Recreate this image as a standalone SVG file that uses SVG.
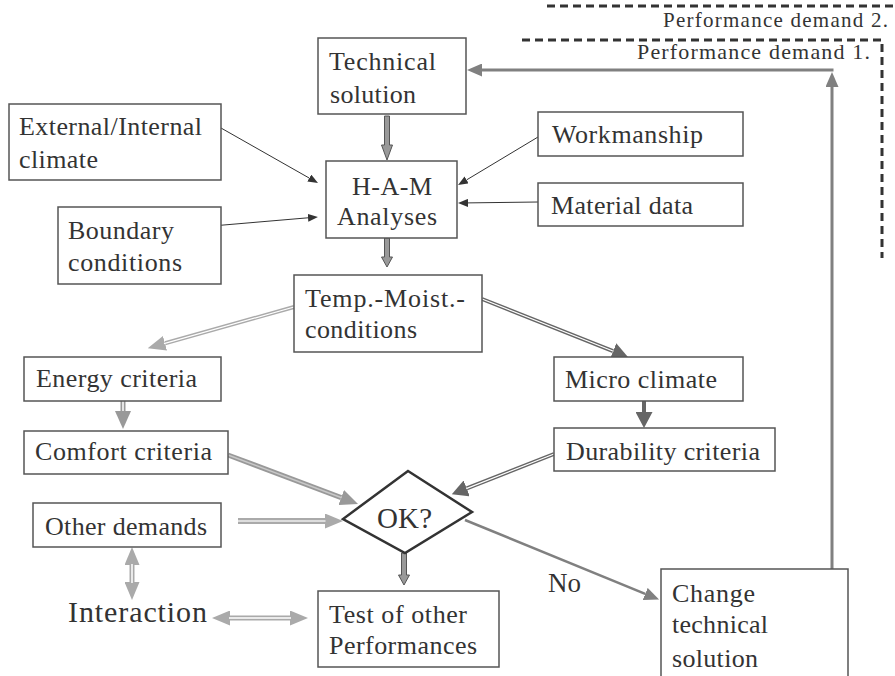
<svg xmlns="http://www.w3.org/2000/svg" width="895" height="676" viewBox="0 0 895 676">
<defs>
<style>
.box{fill:#fff;stroke:#555;stroke-width:1.5}
.t{font-family:"Liberation Serif","Times New Roman","DejaVu Serif",serif;font-size:26px;fill:#333}
.s21{font-size:21px}
.s22{font-size:22px}
.s27{font-size:27px}
.s29{font-size:29px}
.s30{font-size:30px}
.end{text-anchor:end}
.thin{stroke:#333;stroke-width:1;fill:none}
.hollow{fill:#999;stroke:#555;stroke-width:1}
.dash{stroke:#333;stroke-width:3;stroke-dasharray:8 5;fill:none}
.fb{stroke:#808080;stroke-width:3;fill:none}
</style>
<marker id="mBlack" markerUnits="userSpaceOnUse" markerWidth="10" markerHeight="8" refX="0" refY="4" orient="auto"><path d="M0,0 L10,4 L0,8 z" fill="#333"/></marker>
<marker id="mLight" markerUnits="userSpaceOnUse" markerWidth="18" markerHeight="15" refX="0" refY="7.5" orient="auto-start-reverse"><path d="M0,0 L18,7.5 L0,15 z" fill="#aaa"/></marker>
<marker id="mMid" markerUnits="userSpaceOnUse" markerWidth="18" markerHeight="16" refX="0" refY="8" orient="auto"><path d="M0,0 L18,8 L0,16 z" fill="#999"/></marker>
<marker id="mDark" markerUnits="userSpaceOnUse" markerWidth="16" markerHeight="17" refX="0" refY="8.5" orient="auto"><path d="M0,0 L16,8.5 L0,17 z" fill="#666"/></marker>
<marker id="mGray" markerUnits="userSpaceOnUse" markerWidth="15" markerHeight="13" refX="0" refY="6.5" orient="auto"><path d="M0,0 L15,6.5 L0,13 z" fill="#808080"/></marker>
</defs>
<rect width="895" height="676" fill="#fff"/>

<g id="performance-demands">
<path class="dash" d="M547,6 H895"/>
<text class="t s21 end" x="888" y="27" textLength="225">Performance demand 2.</text>
<path class="dash" d="M522,40 H882 V258"/>
<text class="t s22 end" x="870" y="59" textLength="233">Performance demand 1.</text>
</g>

<g id="connectors">
<line class="thin" x1="221" y1="128" x2="309.3" y2="178.1" marker-end="url(#mBlack)"/>
<line class="thin" x1="212" y1="226" x2="308" y2="217.8" marker-end="url(#mBlack)"/>
<line class="thin" x1="538" y1="137" x2="466.6" y2="179.9" marker-end="url(#mBlack)"/>
<line class="thin" x1="538" y1="202" x2="468" y2="202.9" marker-end="url(#mBlack)"/>
<polygon class="hollow" points="384.5,116 389.5,116 389.5,145 392.5,145 387,160 381.5,145 384.5,145"/>
<polygon class="hollow" points="384.5,238 389.5,238 389.5,257 392.5,257 387,267 381.5,257 384.5,257"/>
<polygon class="hollow" points="401.5,553 406.5,553 406.5,575 409.5,575 404,585 398.5,575 401.5,575"/>
<line x1="294" y1="307" x2="165" y2="343.3" stroke="#aaa" stroke-width="4" marker-end="url(#mLight)"/>
<line x1="294" y1="307" x2="164" y2="343.6" stroke="#fff" stroke-width="1.2"/>
<line x1="482" y1="299" x2="613.1" y2="351.1" stroke="#666" stroke-width="4" marker-end="url(#mDark)"/>
<line x1="482" y1="299" x2="613.5" y2="351.2" stroke="#fff" stroke-width="1.2"/>
<line x1="123" y1="401" x2="123" y2="411" stroke="#999" stroke-width="5" marker-end="url(#mMid)"/>
<line x1="123" y1="401" x2="123" y2="411" stroke="#fff" stroke-width="1.5"/>
<line x1="644" y1="401" x2="644" y2="412" stroke="#666" stroke-width="4" marker-end="url(#mDark)"/>
<line x1="228" y1="455" x2="341.2" y2="497.6" stroke="#999" stroke-width="5" marker-end="url(#mMid)"/>
<line x1="228" y1="455" x2="341.6" y2="497.8" stroke="#c8c8c8" stroke-width="1.5"/>
<line x1="238" y1="521" x2="325" y2="521" stroke="#aaa" stroke-width="6" marker-end="url(#mLight)"/>
<line x1="238" y1="521" x2="325.5" y2="521" stroke="#ddd" stroke-width="2"/>
<line x1="554" y1="454" x2="466.7" y2="488.4" stroke="#666" stroke-width="4" marker-end="url(#mDark)"/>
<line x1="554" y1="454" x2="466.3" y2="488.6" stroke="#fff" stroke-width="1.2"/>
<line x1="465" y1="520" x2="645.2" y2="593.9" stroke="#808080" stroke-width="2.5" marker-end="url(#mGray)"/>
<line x1="132" y1="565" x2="132" y2="582" stroke="#aaa" stroke-width="5" marker-start="url(#mLight)" marker-end="url(#mLight)"/>
<line x1="132" y1="564" x2="132" y2="583" stroke="#fff" stroke-width="1.5"/>
<line x1="230" y1="618" x2="290" y2="618" stroke="#aaa" stroke-width="5" marker-start="url(#mLight)" marker-end="url(#mLight)"/>
<line x1="229" y1="618" x2="291" y2="618" stroke="#fff" stroke-width="1.5"/>
<line class="fb" x1="832" y1="569" x2="832" y2="87" marker-end="url(#mGray)"/>
<line class="fb" x1="833.5" y1="70" x2="482" y2="70" marker-end="url(#mGray)"/>
</g>

<g id="technical-solution">
<rect class="box" x="318" y="38" width="148" height="76"/>
<text class="t" x="329" y="70" textLength="107">Technical</text>
<text class="t" x="330" y="103" textLength="86">solution</text>
</g>
<g id="external-internal-climate">
<rect class="box" x="9" y="104" width="212" height="76"/>
<text class="t" x="19" y="135" textLength="183">External/Internal</text>
<text class="t" x="19" y="168" textLength="79">climate</text>
</g>
<g id="boundary-conditions">
<rect class="box" x="58" y="207" width="163" height="77"/>
<text class="t" x="68" y="239" textLength="106">Boundary</text>
<text class="t" x="68" y="271" textLength="114">conditions</text>
</g>
<g id="ham-analyses">
<rect class="box" x="326" y="161" width="131" height="77"/>
<text class="t" x="352" y="195" textLength="80">H-A-M</text>
<text class="t" x="337" y="225" textLength="100">Analyses</text>
</g>
<g id="workmanship">
<rect class="box" x="538" y="112" width="205" height="44"/>
<text class="t" x="552" y="143" textLength="151">Workmanship</text>
</g>
<g id="material-data">
<rect class="box" x="538" y="183" width="205" height="43"/>
<text class="t" x="551" y="214" textLength="142">Material data</text>
</g>
<g id="temp-moist-conditions">
<rect class="box" x="294" y="275" width="188" height="77"/>
<text class="t" x="305" y="307" textLength="160">Temp.-Moist.-</text>
<text class="t" x="305" y="338" textLength="112">conditions</text>
</g>
<g id="energy-criteria">
<rect class="box" x="24" y="357" width="197" height="44"/>
<text class="t" x="36" y="387" textLength="161">Energy criteria</text>
</g>
<g id="comfort-criteria">
<rect class="box" x="24" y="431" width="204" height="43"/>
<text class="t" x="35" y="460" textLength="177">Comfort criteria</text>
</g>
<g id="micro-climate">
<rect class="box" x="554" y="357" width="189" height="44"/>
<text class="t" x="565" y="388" textLength="152">Micro climate</text>
</g>
<g id="durability-criteria">
<rect class="box" x="554" y="428" width="221" height="43"/>
<text class="t" x="566" y="460" textLength="194">Durability criteria</text>
</g>
<g id="ok-decision">
<polygon points="408,471 472,512 405,553 343,519" fill="#fff" stroke="#333" stroke-width="2.5"/>
<text class="t s29" x="377" y="528" textLength="55">OK?</text>
</g>
<g id="other-demands">
<rect class="box" x="33" y="503" width="188" height="44"/>
<text class="t" x="45" y="535" textLength="162">Other demands</text>
</g>
<g id="interaction">
<text class="t s30" x="68" y="622" textLength="139">Interaction</text>
</g>
<g id="test-other-performances">
<rect class="box" x="318" y="591" width="181" height="76"/>
<text class="t" x="329" y="623" textLength="138">Test of other</text>
<text class="t" x="329" y="654" textLength="148">Performances</text>
</g>
<g id="no-label">
<text class="t s27" x="548" y="592">No</text>
</g>
<g id="change-technical-solution">
<rect class="box" x="661" y="569" width="187" height="120"/>
<text class="t" x="672" y="602" textLength="83">Change</text>
<text class="t" x="672" y="633" textLength="96">technical</text>
<text class="t" x="672" y="667" textLength="86">solution</text>
</g>
</svg>
